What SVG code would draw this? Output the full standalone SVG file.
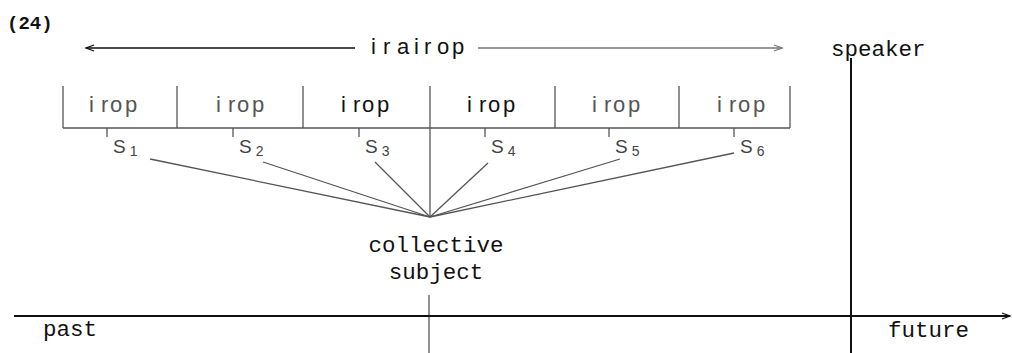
<svg xmlns="http://www.w3.org/2000/svg" width="1012" height="353" viewBox="0 0 1012 353">
<defs>
<style>
.mono{font-family:"Liberation Mono","Courier New",monospace;font-size:22.5px;fill:#111}
.sans{font-family:"Liberation Sans",Arial,sans-serif;font-size:22px}
.dark{fill:#111}
.grey{fill:#555}
.sl{font-family:"Liberation Sans",Arial,sans-serif;font-size:19px;fill:#444}
.sub{font-size:14px}
.thin{stroke:#555;stroke-width:1.3;fill:none}
.bold{stroke:#111;stroke-width:2;fill:none}
</style>
<marker id="ah" markerWidth="12" markerHeight="10" refX="10" refY="5" orient="auto-start-reverse" markerUnits="userSpaceOnUse">
<path d="M2,2 L10,5 L2,8" fill="none" stroke="context-stroke" stroke-width="1.3"/>
</marker>
</defs>
<rect width="1012" height="353" fill="#fff"/>
<text x="7" y="29" style="font-family:'Liberation Mono',monospace;font-size:19px;font-weight:bold;fill:#111">(24)</text>
<g id="irairop">
<line x1="355" y1="48" x2="86" y2="48" stroke="#111" stroke-width="1.6" marker-end="url(#ah)"/>
<text class="sans dark" y="54" x="371 383 397 414 424 437 452">irairop</text>
<line x1="478" y1="48" x2="782" y2="48" stroke="#777" stroke-width="1.3" marker-end="url(#ah)"/>
</g>
<g id="speaker">
<text class="mono" x="831" y="56">speaker</text>
<line class="bold" x1="851" y1="58" x2="851" y2="353"/>
</g>
<g id="irop-bar">
<line class="thin" x1="63" y1="128" x2="790" y2="128"/>
<line class="thin" x1="63" y1="86" x2="63" y2="128"/>
<line class="thin" x1="177" y1="86" x2="177" y2="128"/>
<line class="thin" x1="303" y1="86" x2="303" y2="128"/>
<line class="thin" x1="430" y1="86" x2="430" y2="217"/>
<line class="thin" x1="555" y1="86" x2="555" y2="128"/>
<line class="thin" x1="679" y1="86" x2="679" y2="128"/>
<line class="thin" x1="790" y1="86" x2="790" y2="128"/>
<text class="sans grey" y="112" x="89 101 110 125">irop</text>
<text class="sans grey" y="112" x="216 228 237 252">irop</text>
<text class="sans dark" y="112" x="341 353 362 377">irop</text>
<text class="sans dark" y="112" x="467 479 488 503">irop</text>
<text class="sans grey" y="112" x="592 604 613 628">irop</text>
<text class="sans grey" y="112" x="717 729 738 753">irop</text>
</g>
<g id="subjects">
<line class="thin" x1="107" y1="128" x2="107" y2="137"/>
<line class="thin" x1="233" y1="128" x2="233" y2="137"/>
<line class="thin" x1="359" y1="128" x2="359" y2="137"/>
<line class="thin" x1="485" y1="128" x2="485" y2="137"/>
<line class="thin" x1="609" y1="128" x2="609" y2="137"/>
<line class="thin" x1="734" y1="128" x2="734" y2="137"/>
<text class="sl" x="113" y="153">S<tspan class="sub" dx="4" dy="3">1</tspan></text>
<text class="sl" x="239" y="153">S<tspan class="sub" dx="4" dy="3">2</tspan></text>
<text class="sl" x="365" y="153">S<tspan class="sub" dx="4" dy="3">3</tspan></text>
<text class="sl" x="491" y="153">S<tspan class="sub" dx="4" dy="3">4</tspan></text>
<text class="sl" x="615" y="153">S<tspan class="sub" dx="4" dy="3">5</tspan></text>
<text class="sl" x="740" y="153">S<tspan class="sub" dx="4" dy="3">6</tspan></text>
</g>
<g id="connectors">
<line class="thin" x1="430" y1="217" x2="150" y2="159"/>
<line class="thin" x1="430" y1="217" x2="263" y2="162"/>
<line class="thin" x1="430" y1="217" x2="375" y2="162"/>
<line class="thin" x1="430" y1="217" x2="488" y2="163"/>
<line class="thin" x1="430" y1="217" x2="620" y2="159"/>
<line class="thin" x1="430" y1="217" x2="734" y2="153"/>
</g>
<g id="collective-subject">
<text class="mono" x="436" y="252" text-anchor="middle">collective</text>
<text class="mono" x="436" y="279" text-anchor="middle">subject</text>
<line class="thin" x1="429" y1="295" x2="429" y2="353"/>
</g>
<g id="timeline">
<line class="bold" x1="14" y1="316" x2="1010" y2="316" marker-end="url(#ah)"/>
<text class="mono" x="43" y="336">past</text>
<text class="mono" x="888" y="337">future</text>
</g>
</svg>
